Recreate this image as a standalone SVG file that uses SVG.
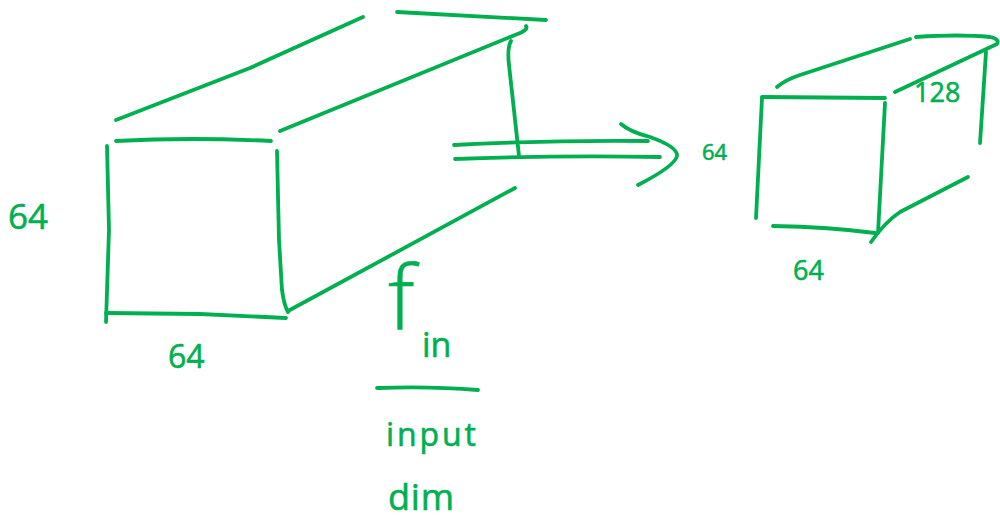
<svg xmlns="http://www.w3.org/2000/svg" width="1000" height="521" viewBox="0 0 1000 521">
<style>
.s{fill:none;stroke:#00b050;stroke-width:3.8;stroke-linecap:round;stroke-linejoin:round}
text{fill:#00b050;font-family:"Open Sans","Liberation Sans",Arial,sans-serif;stroke:#00b050;stroke-width:.6}
</style>
<rect width="1000" height="521" fill="#fff"/>
<g id="large-block">
<path class="s" d="M116 120L250 68L363 17"/>
<path class="s" d="M397 12L546 20"/>
<path class="s" d="M116 141Q190 137 271 141"/>
<path class="s" d="M280 131L515 35Q529 30 526 26"/>
<path class="s" d="M107 146L109 230L106 322"/>
<path class="s" d="M106 313L200 314L286 318"/>
<path class="s" d="M277 151L279 240L282 290Q284 305 288 312"/>
<path class="s" d="M288 311L515 188"/>
<path class="s" d="M511 41Q507 48 509 65L519 156"/>
</g>
<g id="arrow">
<path class="s" d="M454 145Q550 140 648 141"/>
<path class="s" d="M455 159Q560 155 660 157"/>
<path class="s" d="M621 124Q630 132 650 137Q678 147 677 156Q675 166 638 185"/>
</g>
<g id="small-block">
<path class="s" d="M777 87Q785 80 800 75L910 39"/>
<path class="s" d="M916 37Q960 34 990 37Q1000 39 997 44L895 92"/>
<path class="s" d="M762 97L885 98"/>
<path class="s" d="M762 98L756 218"/>
<path class="s" d="M885 103L878 233"/>
<path class="s" d="M773 226Q830 227 875 233"/>
<path class="s" d="M871 242Q885 222 900 212L968 177"/>
<path class="s" d="M986 52L980 143"/>
</g>
<g id="labels">
<text x="8" y="229" font-size="35">64</text>
<text x="168" y="368" font-size="32">64</text>
<text x="702" y="160" font-size="22">64</text>
<text x="793" y="280" font-size="27">64</text>
<text x="914" y="102" font-size="27">128</text>
<text x="388" y="329" font-size="88" font-weight="300">f</text>
<text x="422" y="357" font-size="34">in</text>
<text x="386" y="446" font-size="32" textLength="90">input</text>
<text x="388" y="510" font-size="36" textLength="66">dim</text>
</g>
<g id="fraction"><path class="s" d="M377 388Q430 386 478 390"/></g>
</svg>
